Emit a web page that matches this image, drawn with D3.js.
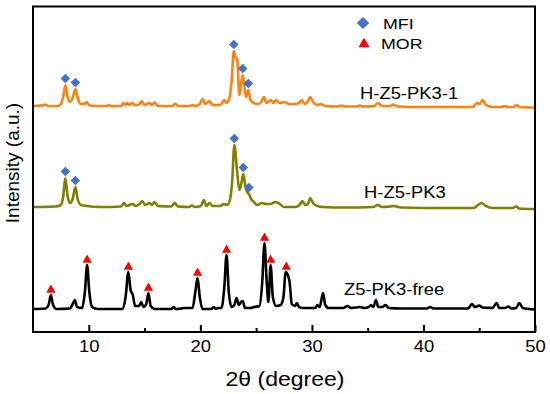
<!DOCTYPE html>
<html>
<head>
<meta charset="utf-8">
<script src="https://cdn.jsdelivr.net/npm/d3@7"></script>
<style>
  body { margin: 0; background: #fff; }
  svg { display: block; }
  text { font-family: "Liberation Sans", Arial, sans-serif; fill: #000; }
</style>
</head>
<body>
<div id="chart"></div>
<script>
// XRD patterns: [2theta, intensity (a.u., stacked)]
const freeData = [
  [5, 23], [6.1, 23.5], [6.4, 27], [6.6, 37], [6.8, 27], [7.1, 23], [8.3, 23.5], [8.6, 29], [8.75, 32], [8.95, 25],
  [9.4, 24], [9.65, 40], [9.85, 67], [10.05, 40], [10.3, 25], [10.8, 23], [13.0, 23], [13.3, 35], [13.55, 60], [13.75, 42],
  [13.95, 37], [14.15, 26], [14.5, 26], [14.7, 30], [14.9, 25], [15.15, 28], [15.35, 39], [15.55, 26], [15.9, 23], [17.4, 23],
  [17.6, 25], [17.8, 23], [18.3, 23.5], [18.5, 24], [19.3, 24], [19.55, 40], [19.75, 54], [19.95, 35], [20.2, 23], [21.0, 23],
  [21.2, 25], [21.4, 23], [21.6, 24], [21.9, 24], [22.15, 45], [22.35, 77], [22.55, 40], [22.8, 25], [23.05, 27], [23.25, 34],
  [23.45, 27], [23.65, 30], [23.8, 31], [24.0, 24], [24.5, 24], [24.8, 25], [25.3, 26], [25.55, 50], [25.75, 89], [25.95, 50],
  [26.1, 30], [26.3, 67], [26.5, 35], [26.8, 26], [27.2, 27], [27.45, 35], [27.65, 60], [27.85, 57], [28.0, 50], [28.2, 28],
  [28.5, 26], [28.65, 29], [28.85, 25], [29.2, 24], [30.3, 24], [30.5, 27], [30.7, 25], [30.85, 32], [31.0, 39], [31.2, 27],
  [31.5, 24], [32.8, 24], [33.2, 26], [33.5, 24], [34.0, 24.5], [34.3, 25], [34.7, 24], [35.1, 25], [35.3, 27], [35.5, 25],
  [35.75, 32], [35.95, 25], [36.3, 25], [36.6, 27], [36.9, 24], [38, 23.5], [40.3, 23.5], [40.6, 25], [40.9, 23.5], [44.0, 23.5],
  [44.35, 28], [44.6, 25], [45.0, 26.5], [45.3, 24.5], [46.2, 24], [46.55, 29], [46.8, 24], [47.3, 24], [47.6, 25.5], [47.9, 23.5],
  [48.3, 24], [48.6, 29], [48.9, 24], [49.5, 23], [50, 22.5]
];

const pk3Data = [
  [5, 125], [7.0, 125.5], [7.5, 127], [7.7, 135], [7.9, 154], [8.1, 136], [8.3, 129], [8.55, 133], [8.8, 145], [9.0, 133],
  [9.3, 127], [9.8, 126], [11.0, 125], [12.9, 125.5], [13.15, 129], [13.4, 126], [13.9, 128], [14.2, 126], [14.55, 128], [14.8, 131],
  [15.05, 127], [15.45, 129], [15.65, 127], [15.9, 130], [16.2, 126], [17.4, 125.5], [17.7, 129], [18.0, 125.5], [19.0, 125], [19.25, 126.5],
  [19.5, 125], [20.05, 126], [20.3, 132], [20.55, 126], [20.8, 129], [21.1, 126], [21.8, 126], [22.1, 128], [22.4, 127], [22.65, 132],
  [22.85, 150], [23.05, 187], [23.3, 160], [23.5, 142], [23.7, 150], [23.85, 158], [24.05, 145], [24.2, 140], [24.35, 138], [24.55, 133],
  [24.8, 130], [25.1, 127], [25.5, 129], [25.9, 128], [26.3, 128], [26.7, 130], [27.0, 129], [27.5, 125], [28.5, 125], [28.9, 127],
  [29.15, 131], [29.4, 127], [29.65, 128], [29.85, 134], [30.1, 129], [30.5, 126], [31.0, 125], [33, 124.5], [35.5, 125], [35.9, 127],
  [36.3, 125], [37.0, 125.5], [37.3, 126], [38, 124.5], [42, 124], [44.5, 124], [44.9, 127], [45.2, 129], [45.6, 126], [46.2, 124],
  [47.2, 124], [48.0, 124], [48.3, 125.5], [48.6, 123.5], [50, 123]
];

const pk31Data = [
  [5, 226], [5.8, 226.5], [6.1, 227.5], [6.4, 226], [7.2, 226], [7.5, 228], [7.7, 235], [7.9, 247], [8.1, 235], [8.3, 230],
  [8.55, 234], [8.8, 243], [9.0, 234], [9.3, 228], [9.6, 228], [9.8, 230], [10.0, 227], [10.5, 226], [11.6, 226], [11.8, 227],
  [12.0, 226], [12.9, 226], [13.1, 229], [13.3, 227], [13.45, 229], [13.65, 227], [13.9, 229], [14.2, 226.5], [14.55, 228], [14.75, 231],
  [15.0, 227], [15.45, 229], [15.65, 227], [15.9, 229.5], [16.2, 226], [17.5, 226], [17.75, 228.5], [18.0, 226], [19.1, 226], [19.3, 227],
  [19.5, 226], [19.95, 228], [20.2, 233], [20.45, 228], [20.8, 231], [21.1, 227], [21.8, 227], [22.15, 232], [22.35, 229], [22.6, 234],
  [22.8, 250], [23.0, 281], [23.15, 275], [23.3, 273], [23.5, 237], [23.65, 248], [23.8, 257], [23.95, 245], [24.1, 235], [24.3, 242],
  [24.5, 232], [24.8, 229], [25.2, 228], [25.45, 230], [25.7, 235], [25.95, 229], [26.3, 232], [26.55, 229], [26.8, 232], [27.1, 229],
  [27.6, 230], [27.9, 228], [28.5, 228], [28.85, 229], [29.1, 232], [29.35, 228], [29.6, 230], [29.85, 235], [30.1, 230], [30.5, 227],
  [30.8, 228], [31.2, 226], [32.3, 225.5], [32.6, 226.5], [33.0, 225.5], [34.0, 225.5], [34.3, 226.5], [34.6, 225.5], [35.6, 226], [35.9, 229],
  [36.3, 226], [37.0, 226], [37.3, 227.5], [37.7, 225.5], [40, 225], [44.4, 225], [44.8, 229], [45.05, 228], [45.3, 232], [45.6, 227],
  [46.2, 225], [47.0, 225], [47.3, 226], [47.6, 225], [48.1, 225], [48.35, 227], [48.6, 225], [50, 224.5]
];

// marked reflections (peak tops)
const mfiPk31 = [[7.9, 247], [8.8, 243], [23.0, 281], [23.8, 257], [24.3, 242]];
const mfiPk3 = [[7.9, 154], [8.8, 145], [23.05, 187], [23.85, 158], [24.35, 138]];
const morFree = [[6.6, 37], [9.85, 67], [13.55, 60], [15.35, 39], [19.75, 54], [22.35, 77], [25.75, 89], [26.3, 67], [27.7, 60]];

const seriesNames = ["H-Z5-PK3-1", "H-Z5-PK3", "Z5-PK3-free"];
const legendNames = ["MFI", "MOR"];
const majorTicks = [10, 20, 30, 40, 50];
const minorTicks = [15, 25, 35, 45];

const width = 550, height = 394;
const plot = { left: 33, right: 535, top: 6.5, bottom: 332 };
const sx = 1.15; // text in the source is a bit wide

const x = d3.scaleLinear().domain([5, 50]).range([plot.left, plot.right]);
const y = d3.scaleLinear().domain([0, 325.5]).range([plot.bottom, plot.top]);

const svg = d3.select("#chart").append("svg")
  .attr("width", width)
  .attr("height", height);

// simple marker shapes
function diamond(w, h) {
  return `M0,${-h}L${w},0L0,${h}L${-w},0Z`;
}
function triangle(w, h) {
  return `M0,${-h}L${w},${h * 0.8}L${-w},${h * 0.8}Z`;
}

const line = d3.line()
  .x(d => x(d[0]))
  .y(d => y(d[1]))
  .curve(d3.curveMonotoneX);

const series = [
  { data: pk31Data, color: "#ff8210" },
  { data: pk3Data, color: "#808000" },
  { data: freeData, color: "#000" }
];

svg.selectAll(".trace")
  .data(series)
  .enter()
  .append("path")
  .attr("class", "trace")
  .attr("d", d => line(d.data))
  .style("fill", "none")
  .style("stroke", d => d.color)
  .style("stroke-width", 2.6)
  .style("stroke-linejoin", "round");

// diamonds over MFI peaks
svg.selectAll(".mfi")
  .data(mfiPk31.concat(mfiPk3))
  .enter()
  .append("path")
  .attr("class", "mfi")
  .attr("transform", d => `translate(${x(d[0])},${y(d[1]) - 6.5})`)
  .attr("d", diamond(4.8, 4.8))
  .style("fill", "#4472c4");

// triangles over MOR peaks
svg.selectAll(".mor")
  .data(morFree)
  .enter()
  .append("path")
  .attr("class", "mor")
  .attr("transform", d => `translate(${x(d[0])},${y(d[1]) - 6})`)
  .attr("d", triangle(4.6, 4.6))
  .style("fill", "#ff0000");

// axis ticks point inward
const gx = svg.append("g").attr("transform", `translate(0,${plot.bottom})`);
gx.call(d3.axisBottom(x).tickValues(majorTicks).tickSize(-7).tickPadding(9));
gx.append("g").call(d3.axisBottom(x).tickValues(minorTicks).tickSize(-4).tickFormat(""));
gx.selectAll(".domain").remove();
gx.selectAll("line").style("stroke", "#000").style("stroke-width", 2);
gx.selectAll("text")
  .style("font-size", "16px")
  .style("font-family", "'Liberation Sans', Arial, sans-serif")
  .attr("transform", `scale(${sx},1)`);

// frame
svg.append("rect")
  .attr("x", plot.left)
  .attr("y", plot.top)
  .attr("width", plot.right - plot.left)
  .attr("height", plot.bottom - plot.top)
  .style("fill", "none")
  .style("stroke", "#000")
  .style("stroke-width", 2);

// series labels
const labelPos = [[360, 99], [364, 198], [344, 295]];
svg.selectAll(".slabel")
  .data(seriesNames)
  .enter()
  .append("text")
  .attr("class", "slabel")
  .attr("transform", (d, i) => `translate(${labelPos[i][0]},${labelPos[i][1]}) scale(${sx},1)`)
  .style("font-size", "16px")
  .text(d => d);

// legend
const legend = svg.append("g").attr("transform", "translate(363,23)");
legend.append("path").attr("d", diamond(6.3, 6)).style("fill", "#4472c4");
legend.append("path").attr("transform", "translate(1,20)").attr("d", triangle(5.6, 5.2)).style("fill", "#ff0000");
legend.selectAll("text")
  .data(legendNames)
  .enter()
  .append("text")
  .attr("transform", (d, i) => `translate(${i ? 18 : 20},${5.5 + i * 20}) scale(${sx},1)`)
  .style("font-size", "15.5px")
  .text(d => d);

// axis titles
svg.append("text")
  .attr("transform", `translate(285,386) scale(${sx},1)`)
  .style("text-anchor", "middle")
  .style("font-size", "20px")
  .text("2θ (degree)");

svg.append("text")
  .attr("transform", "translate(19,163) rotate(-90)")
  .style("text-anchor", "middle")
  .style("font-size", "19px")
  .text("Intensity (a.u.)");
</script>
</body>
</html>
